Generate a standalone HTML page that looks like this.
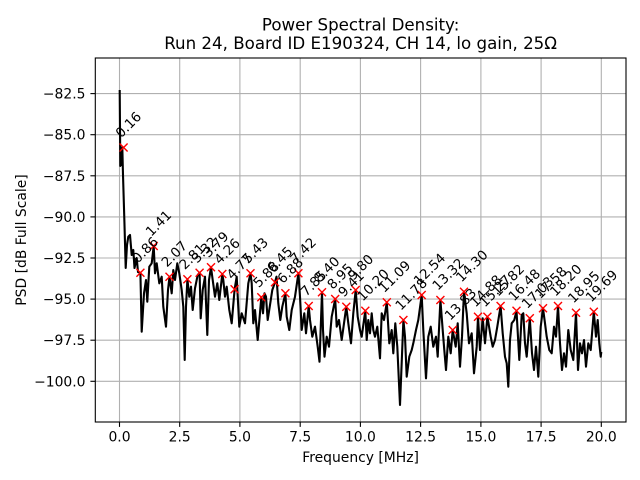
<!DOCTYPE html>
<html><head><meta charset="utf-8"><style>
html,body{margin:0;padding:0;background:#fff;}
svg{display:block;}
text{font-family:"DejaVu Sans","Liberation Sans",sans-serif;fill:#000;}
</style></head><body>
<svg width="640" height="480" viewBox="0 0 640 480" xmlns="http://www.w3.org/2000/svg">
<rect width="640" height="480" fill="#fff"/>
<g stroke="#b0b0b0" stroke-width="1.1">
<line x1="119.5" y1="58" x2="119.5" y2="422"/>
<line x1="179.7" y1="58" x2="179.7" y2="422"/>
<line x1="239.9" y1="58" x2="239.9" y2="422"/>
<line x1="300.2" y1="58" x2="300.2" y2="422"/>
<line x1="360.4" y1="58" x2="360.4" y2="422"/>
<line x1="420.6" y1="58" x2="420.6" y2="422"/>
<line x1="480.9" y1="58" x2="480.9" y2="422"/>
<line x1="541.1" y1="58" x2="541.1" y2="422"/>
<line x1="601.3" y1="58" x2="601.3" y2="422"/>
<line x1="95.3" y1="93.6" x2="626" y2="93.6"/>
<line x1="95.3" y1="134.7" x2="626" y2="134.7"/>
<line x1="95.3" y1="175.8" x2="626" y2="175.8"/>
<line x1="95.3" y1="216.9" x2="626" y2="216.9"/>
<line x1="95.3" y1="258" x2="626" y2="258"/>
<line x1="95.3" y1="299.1" x2="626" y2="299.1"/>
<line x1="95.3" y1="340.2" x2="626" y2="340.2"/>
<line x1="95.3" y1="381.3" x2="626" y2="381.3"/>
</g>
<polyline fill="none" stroke="#000" stroke-width="2.1" stroke-linejoin="round" points="
119.7,90 120.3,166 121,150 121.7,165 122.3,147 123,175 124.5,225 125.7,268 127,245 128.3,236.7 130,235 131.7,255 133.3,250 134.5,268 136.7,258 138,272 140.4,272.7
141.7,331.7 144,293.3 146,280 147.3,301.7 149.3,266.7 151.7,263.3 153.7,246 155,273.3 156.7,263.3 159.3,283.3 161.7,276.7 163.3,306.7 166,326.7 168,290 169.5,276.7 171.7,293.3 173.3,270 175,280 177.3,263.3 179.3,273.3 181.7,290 183.3,306.7 184.7,360 186,306.7 187.4,279.3 189.3,296.7 191,286.7 192.7,310 195,288.3 197.7,275 199.6,272.7 200.7,318.3 202.7,290 205,276.7 207.3,335 209,280 211,267.3 212.7,280 215,296.7 217.3,283.3 219.3,300 222.3,274 223.3,280 225,296.7 226.7,286.7 229.3,310 231.7,323.3 234.6,289.3 236.7,276.7 239.3,326.7 241.7,313.3 245,323.3 248.3,283.3 250.5,273.3
251.7,283.3 253.3,323.3 255,310 257.7,340 261.3,297.3 263,313.3 264.5,293.3 266,296.7 267.7,320 270,305 272.3,290 275,282.3 276.5,276.7 278.3,303.3 280.3,320 282.3,306.7 285.4,293.3 286.7,316.7 289.3,330 291.7,310 295,296.7 298.4,273.3 300,296.7 301.7,330 304.3,313.3 306,333.3 308.7,306 310,320 312.3,336.7 315,326.7 317.7,346.7 319.5,361.7 322,292.3 323,330 324.5,356.7 326.7,336.7 329,346.7 331.7,316.7 335.2,299 336.7,326.7 339,320 341.7,340 346.3,306.7 348.3,323.3 351,343.3 353.3,313.3 355.7,290 357.7,316.7 360,330 361.7,336.7 365.3,310.7
366.7,340 368.3,320 370,333.3 371.7,313.3 373.3,330 375,336.7 377.3,326.7 380,358.3 381.7,313.3 384,320 386.8,302.3 389.3,343.3 391.7,330 393.3,353.3 395.3,323.3 397.3,346.7 400,405 403.4,320 405,336.7 406.7,376.7 409.3,356.7 411.7,350 413.3,343.3 416,330 418.3,320 421.7,295 423.3,330 426,378.3 428.3,336.7 430.7,326.7 433.3,346.7 436,336.7 437.7,356.7 440.4,300 442.7,330 444.3,350 446,370 448.3,336.7 450.7,353.3 452.7,330 455.7,346.7 457.7,323.3 460,366.7 462,336.7 464,291.7 466.7,313.3 469,343.3 471.7,333.3 474,373.3 476.7,346.7 478,316.7
480,350 482.7,318.3 485,343.3 487.4,316.7 490.7,336.7 492.7,346.7 495,340 497.3,326.7 500.6,306 502.7,333.3 505,356.7 506.7,363.3 508.3,386.7 510,340 511.7,323.3 514.3,320 516.5,310.7 519.3,360 521.7,315 523.3,313.3 525,343.3 526.7,356.7 529.8,318.3 532,353.3 534,370 536,346.7 538.3,376.7 540.7,326.7 543,308.3 545,323.3 546.7,336.7 549.3,350 551.7,353.3 554,326.7 556,336.7 558,306 560,343.3 562,370 564,353.3 566,366.7 568.3,330 570.7,350 573.3,360 576,312.7 578,370 580,343.3 582,353.3 584,340 586,366.7 588.3,343.3 590.7,350 593.8,311.7 596,336.7 597.7,320 599.3,343.3 600.7,356.7 601.3,352"/>
<g stroke="#ff0000" stroke-width="1.4" fill="none">
<path d="M119.6,143.5l8,8m-8,0l8,-8"/>
<path d="M136.4,268.7l8,8m-8,0l8,-8"/>
<path d="M149.7,242l8,8m-8,0l8,-8"/>
<path d="M165.5,272.7l8,8m-8,0l8,-8"/>
<path d="M183.4,275.3l8,8m-8,0l8,-8"/>
<path d="M195.6,268.7l8,8m-8,0l8,-8"/>
<path d="M207,263.3l8,8m-8,0l8,-8"/>
<path d="M218.3,270l8,8m-8,0l8,-8"/>
<path d="M230.6,285.3l8,8m-8,0l8,-8"/>
<path d="M246.5,269.3l8,8m-8,0l8,-8"/>
<path d="M257.3,293.3l8,8m-8,0l8,-8"/>
<path d="M271,278.3l8,8m-8,0l8,-8"/>
<path d="M281.4,289.3l8,8m-8,0l8,-8"/>
<path d="M294.4,269.3l8,8m-8,0l8,-8"/>
<path d="M304.7,302l8,8m-8,0l8,-8"/>
<path d="M318,288.3l8,8m-8,0l8,-8"/>
<path d="M331.2,295l8,8m-8,0l8,-8"/>
<path d="M342.3,302.7l8,8m-8,0l8,-8"/>
<path d="M351.7,286l8,8m-8,0l8,-8"/>
<path d="M361.3,306.7l8,8m-8,0l8,-8"/>
<path d="M382.8,298.3l8,8m-8,0l8,-8"/>
<path d="M399.4,316l8,8m-8,0l8,-8"/>
<path d="M417.7,291l8,8m-8,0l8,-8"/>
<path d="M436.4,296l8,8m-8,0l8,-8"/>
<path d="M448.7,326l8,8m-8,0l8,-8"/>
<path d="M460,287.7l8,8m-8,0l8,-8"/>
<path d="M474,312.7l8,8m-8,0l8,-8"/>
<path d="M483.4,312.7l8,8m-8,0l8,-8"/>
<path d="M496.6,302l8,8m-8,0l8,-8"/>
<path d="M512.5,306.7l8,8m-8,0l8,-8"/>
<path d="M525.8,314.3l8,8m-8,0l8,-8"/>
<path d="M539,304.3l8,8m-8,0l8,-8"/>
<path d="M554,302l8,8m-8,0l8,-8"/>
<path d="M572,308.7l8,8m-8,0l8,-8"/>
<path d="M589.8,307.7l8,8m-8,0l8,-8"/>
</g>
<g font-size="13.4">
<text transform="translate(121.1,138.5) rotate(-45)">0.16</text>
<text transform="translate(137.9,263.7) rotate(-45)">0.86</text>
<text transform="translate(151.2,237) rotate(-45)">1.41</text>
<text transform="translate(167,267.7) rotate(-45)">2.07</text>
<text transform="translate(184.9,270.3) rotate(-45)">2.81</text>
<text transform="translate(197.1,263.7) rotate(-45)">3.32</text>
<text transform="translate(208.5,258.3) rotate(-45)">3.79</text>
<text transform="translate(219.8,265) rotate(-45)">4.26</text>
<text transform="translate(232.1,280.3) rotate(-45)">4.77</text>
<text transform="translate(248,264.3) rotate(-45)">5.43</text>
<text transform="translate(258.8,288.3) rotate(-45)">5.88</text>
<text transform="translate(272.5,273.3) rotate(-45)">6.45</text>
<text transform="translate(282.9,284.3) rotate(-45)">6.88</text>
<text transform="translate(295.9,264.3) rotate(-45)">7.42</text>
<text transform="translate(306.2,297) rotate(-45)">7.85</text>
<text transform="translate(319.5,283.3) rotate(-45)">8.40</text>
<text transform="translate(332.7,290) rotate(-45)">8.95</text>
<text transform="translate(343.8,297.7) rotate(-45)">9.41</text>
<text transform="translate(353.2,281) rotate(-45)">9.80</text>
<text transform="translate(362.8,301.7) rotate(-45)">10.20</text>
<text transform="translate(384.3,293.3) rotate(-45)">11.09</text>
<text transform="translate(400.9,311) rotate(-45)">11.78</text>
<text transform="translate(419.2,286) rotate(-45)">12.54</text>
<text transform="translate(437.9,291) rotate(-45)">13.32</text>
<text transform="translate(450.2,321) rotate(-45)">13.83</text>
<text transform="translate(461.5,282.7) rotate(-45)">14.30</text>
<text transform="translate(475.5,307.7) rotate(-45)">14.88</text>
<text transform="translate(484.9,307.7) rotate(-45)">15.27</text>
<text transform="translate(498.1,297) rotate(-45)">15.82</text>
<text transform="translate(514,301.7) rotate(-45)">16.48</text>
<text transform="translate(527.3,309.3) rotate(-45)">17.03</text>
<text transform="translate(540.5,299.3) rotate(-45)">17.58</text>
<text transform="translate(555.5,297) rotate(-45)">18.20</text>
<text transform="translate(573.5,303.7) rotate(-45)">18.95</text>
<text transform="translate(591.3,302.7) rotate(-45)">19.69</text>
</g>
<rect x="95.3" y="58" width="530.7" height="364" fill="none" stroke="#000" stroke-width="1.1"/>
<g stroke="#000" stroke-width="1.1">
<line x1="119.5" y1="422" x2="119.5" y2="426.9"/>
<line x1="179.7" y1="422" x2="179.7" y2="426.9"/>
<line x1="239.9" y1="422" x2="239.9" y2="426.9"/>
<line x1="300.2" y1="422" x2="300.2" y2="426.9"/>
<line x1="360.4" y1="422" x2="360.4" y2="426.9"/>
<line x1="420.6" y1="422" x2="420.6" y2="426.9"/>
<line x1="480.9" y1="422" x2="480.9" y2="426.9"/>
<line x1="541.1" y1="422" x2="541.1" y2="426.9"/>
<line x1="601.3" y1="422" x2="601.3" y2="426.9"/>
<line x1="90.4" y1="93.6" x2="95.3" y2="93.6"/>
<line x1="90.4" y1="134.7" x2="95.3" y2="134.7"/>
<line x1="90.4" y1="175.8" x2="95.3" y2="175.8"/>
<line x1="90.4" y1="216.9" x2="95.3" y2="216.9"/>
<line x1="90.4" y1="258" x2="95.3" y2="258"/>
<line x1="90.4" y1="299.1" x2="95.3" y2="299.1"/>
<line x1="90.4" y1="340.2" x2="95.3" y2="340.2"/>
<line x1="90.4" y1="381.3" x2="95.3" y2="381.3"/>
</g>
<g font-size="13.9" text-anchor="middle">
<text x="119.5" y="441.7">0.0</text>
<text x="179.7" y="441.7">2.5</text>
<text x="239.9" y="441.7">5.0</text>
<text x="300.2" y="441.7">7.5</text>
<text x="360.4" y="441.7">10.0</text>
<text x="420.6" y="441.7">12.5</text>
<text x="480.9" y="441.7">15.0</text>
<text x="541.1" y="441.7">17.5</text>
<text x="601.3" y="441.7">20.0</text>
</g>
<g font-size="13.9" text-anchor="end">
<text x="85.5" y="98.6">−82.5</text>
<text x="85.5" y="139.7">−85.0</text>
<text x="85.5" y="180.8">−87.5</text>
<text x="85.5" y="221.9">−90.0</text>
<text x="85.5" y="263">−92.5</text>
<text x="85.5" y="304.1">−95.0</text>
<text x="85.5" y="345.2">−97.5</text>
<text x="85.5" y="386.3">−100.0</text>
</g>
<text x="360.6" y="462" font-size="13.9" text-anchor="middle">Frequency [MHz]</text>
<text transform="translate(26,240) rotate(-90)" font-size="13.9" text-anchor="middle">PSD [dB Full Scale]</text>
<text x="360.6" y="30.5" font-size="16.67" text-anchor="middle">Power Spectral Density:</text>
<text x="360.6" y="49" font-size="16.67" text-anchor="middle">Run 24, Board ID E190324, CH 14, lo gain, 25Ω</text>
</svg>
</body></html>
